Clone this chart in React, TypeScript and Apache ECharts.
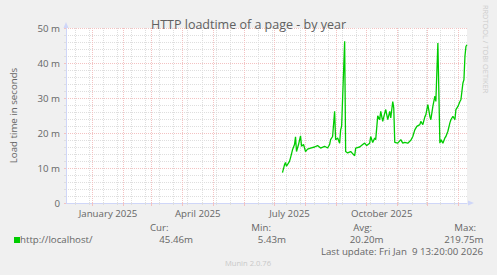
import React, { useEffect, useRef } from "react";
import * as echarts from "echarts";

// ---- data (values in milliseconds, "m") ----
const dates: string[] = [
  "2025-07-09", "2025-07-11", "2025-07-12", "2025-07-13", "2025-07-16", "2025-07-17", "2025-07-19",
  "2025-07-21", "2025-07-22", "2025-07-23", "2025-07-25", "2025-07-27", "2025-07-28", "2025-07-30",
  "2025-08-01", "2025-08-03", "2025-08-06", "2025-08-10", "2025-08-13", "2025-08-16", "2025-08-20",
  "2025-08-23", "2025-08-25", "2025-08-26", "2025-08-28", "2025-08-30", "2025-08-31", "2025-09-02",
  "2025-09-04", "2025-09-05", "2025-09-06", "2025-09-09", "2025-09-10", "2025-09-12", "2025-09-15",
  "2025-09-17", "2025-09-19", "2025-09-20", "2025-09-24", "2025-09-27", "2025-09-29", "2025-10-01",
  "2025-10-04", "2025-10-05", "2025-10-07", "2025-10-09", "2025-10-10", "2025-10-12", "2025-10-14",
  "2025-10-15", "2025-10-17", "2025-10-19", "2025-10-20", "2025-10-22", "2025-10-24", "2025-10-25",
  "2025-10-27", "2025-10-28", "2025-10-29", "2025-11-01", "2025-11-04", "2025-11-06", "2025-11-08",
  "2025-11-11", "2025-11-14", "2025-11-16", "2025-11-18", "2025-11-20", "2025-11-23", "2025-11-24",
  "2025-11-26", "2025-11-28", "2025-11-29", "2025-12-01", "2025-12-03", "2025-12-04", "2025-12-06",
  "2025-12-08", "2025-12-09", "2025-12-11", "2025-12-13", "2025-12-14", "2025-12-16", "2025-12-18",
  "2025-12-19", "2025-12-21", "2025-12-23", "2025-12-24", "2025-12-26", "2025-12-28", "2025-12-29",
  "2025-12-31", "2026-01-02", "2026-01-03", "2026-01-05", "2026-01-06", "2026-01-07", "2026-01-08",
  "2026-01-09",
];
const loadMs: number[] = [
  8.7, 10.9, 11.6, 10.5, 11.9, 12.9, 15.2,
  16.7, 18.9, 14.7, 16.7, 19.2, 16.2, 16.7,
  14.7, 15.4, 15.7, 16.0, 16.4, 15.7, 16.2,
  15.7, 16.7, 18.1, 19.0, 26.2, 18.1, 18.6,
  17.1, 20.9, 21.9, 46.2, 14.7, 14.3, 14.7,
  14.1, 13.5, 15.7, 16.0, 16.7, 17.1, 16.4,
  17.1, 19.0, 17.3, 18.6, 18.1, 24.9, 23.8,
  26.2, 23.3, 25.7, 26.7, 23.8, 26.2, 24.3,
  29.0, 27.1, 17.3, 17.1, 18.1, 17.1, 17.3,
  17.1, 17.9, 19.0, 20.9, 21.9, 22.4, 23.3,
  22.4, 24.6, 25.2, 28.1, 24.8, 23.8, 27.6,
  30.5, 29.0, 45.7, 17.1, 18.1, 17.1, 18.6,
  19.0, 20.5, 22.9, 23.8, 24.8, 23.8, 26.7,
  27.6, 29.0, 29.5, 34.3, 35.2, 41.9, 44.7,
  45.2,
];
const xLabelMonths: string[] = ["January 2025", "April 2025", "July 2025", "October 2025"];
const yTicks: number[] = [0, 10, 20, 30, 40, 50];
const legendHeaders: string[] = ["Cur:", "Min:", "Avg:", "Max:"];
const legendValues: string[] = ["45.46m", "5.43m", "20.20m", "219.75m"];
const seriesName = "http://localhost/";
const lastUpdate = "Last update: Fri Jan  9 13:20:00 2026";

const RANGE_START = Date.UTC(2024, 11, 5, 13, 20);
const RANGE_END = Date.UTC(2026, 0, 9, 13, 20);
const DAY = 86400000;

const FONT = "Open Sans";
const FC = "#666666";
const AXISC = "#CFD6F8";
const GRID_GRAY = "#dedede";
const GRID_RED = "#f3c2c2";

function toTs(d: string): number {
  const [y, m, dd] = d.split("-").map(Number);
  return Date.UTC(y, m - 1, dd, 12, 0);
}

export default function App() {
  const ref = useRef<HTMLDivElement>(null);
  useEffect(() => {
    if (!ref.current) return;
    const chart = echarts.init(ref.current, undefined, { renderer: "svg" });

    // biweekly Sunday grid lines
    const minorVals: number[] = [];
    for (let t = Date.UTC(2024, 11, 15); t < RANGE_END; t += 14 * DAY) minorVals.push(t);
    // month-start grid lines
    const monthVals: number[] = [];
    for (let i = 0; i < 14; i++) {
      const t = Date.UTC(2024, 11 + i, 1);
      if (t > RANGE_START && t < RANGE_END) monthVals.push(t);
    }
    // labels centred in the middle of quarter months
    const labelVals: number[] = [];
    const labelMap: Record<number, string> = {};
    xLabelMonths.forEach((name, i) => {
      const s = Date.UTC(2025, i * 3, 1);
      const e = Date.UTC(2025, i * 3 + 1, 1);
      const mid = (s + e) / 2;
      labelVals.push(mid);
      labelMap[mid] = name;
    });

    const baseX = {
      type: "value" as const,
      min: RANGE_START,
      max: RANGE_END,
      position: "bottom" as const,
      axisLine: { show: false },
      axisLabel: { show: false },
      splitLine: { show: false },
      axisTick: { show: false },
    };

    const seriesData = dates.map((d, i) => [toTs(d), loadMs[i]]);

    const option: echarts.EChartsOption = {
      animation: false,
      backgroundColor: "#F0F0F0",
      textStyle: { fontFamily: FONT },
      title: {
        text: "HTTP loadtime of a page - by year",
        left: "center",
        top: 13,
        textStyle: { fontFamily: FONT, fontSize: 12.5, fontWeight: "normal", color: "#606060" },
      },
      grid: {
        left: 66,
        right: 30,
        top: 28,
        bottom: 72,
        show: true,
        backgroundColor: "#FFFFFF",
        borderWidth: 0,
      },
      xAxis: [
        {
          ...baseX,
          axisTick: { show: true, customValues: minorVals, length: 2, lineStyle: { color: GRID_GRAY } },
          splitLine: { show: true, lineStyle: { color: GRID_GRAY, type: [1, 1], width: 1 } },
        },
        {
          ...baseX,
          axisTick: { show: true, customValues: monthVals, length: 3, lineStyle: { color: GRID_RED } },
          splitLine: { show: true, lineStyle: { color: GRID_RED, type: [1, 1], width: 1 } },
        },
        {
          ...baseX,
          axisLine: {
            show: true,
            lineStyle: { color: AXISC, width: 1 },
            symbol: ["none", "triangle"],
            symbolSize: [5, 6],
            symbolOffset: [0, 4],
          },
          axisLabel: {
            show: true,
            customValues: labelVals,
            formatter: (v: number) => labelMap[v] || "",
            color: FC,
            fontFamily: FONT,
            fontSize: 9.7,
            margin: 5,
          },
        },
      ],
      yAxis: {
        type: "value",
        min: yTicks[0],
        max: yTicks[yTicks.length - 1],
        interval: 10,
        name: "Load time in seconds",
        nameLocation: "middle",
        nameGap: 48,
        nameTextStyle: { color: FC, fontFamily: FONT, fontSize: 9.7 },
        axisLine: {
          show: true,
          lineStyle: { color: AXISC, width: 1 },
          symbol: ["none", "triangle"],
          symbolSize: [5, 6],
          symbolOffset: [0, 3],
        },
        axisTick: { show: true, length: 2, lineStyle: { color: GRID_RED } },
        minorTick: { show: true, splitNumber: 5, length: 2, lineStyle: { color: GRID_GRAY } },
        axisLabel: {
          color: FC,
          fontFamily: FONT,
          fontSize: 9.7,
          margin: 6,
          formatter: (v: number) => (v === 0 ? "0" : v + " m"),
        },
        splitLine: { show: true, lineStyle: { color: GRID_RED, type: [1, 1], width: 1 } },
        minorSplitLine: { show: true, lineStyle: { color: GRID_GRAY, type: [1, 1], width: 1 } },
      },
      series: [
        {
          name: seriesName,
          type: "line",
          xAxisIndex: 0,
          data: seriesData,
          showSymbol: false,
          lineStyle: { color: "#00CC00", width: 1.3 },
          itemStyle: { color: "#00CC00" },
          z: 10,
        },
      ],
      graphic: [
        { type: "rect", shape: { x: 14, y: 237, width: 6, height: 6 }, style: { fill: "#00CC00" } },
        {
          type: "text", x: 20, y: 239,
          style: { text: seriesName, fill: FC, font: `9.7px '${FONT}'`, align: "left", verticalAlign: "middle" },
        },
        ...legendHeaders.map((h, i) => ({
          type: "text" as const,
          x: [168.5, 271, 372, 476][i],
          y: 227,
          style: { text: h, fill: FC, font: `9.7px '${FONT}'`, align: "right" as const, verticalAlign: "middle" as const },
        })),
        ...legendValues.map((v, i) => ({
          type: "text" as const,
          x: [193, 286, 383.5, 483.5][i],
          y: 239,
          style: { text: v, fill: FC, font: `9.7px '${FONT}'`, align: "right" as const, verticalAlign: "middle" as const },
        })),
        {
          type: "text", x: 483, y: 251,
          style: { text: lastUpdate, fill: FC, font: `9.7px '${FONT}'`, align: "right", verticalAlign: "middle" },
        },
        {
          type: "text", x: 248, y: 262.5,
          style: { text: "Munin 2.0.76", fill: "#c8c8c8", font: `7.6px '${FONT}'`, align: "center", verticalAlign: "middle" },
        },
        {
          type: "text", x: 486, y: 5, rotation: -Math.PI / 2,
          style: { text: "RRDTOOL / TOBI OETIKER", fill: "#cccccc", font: `7.4px '${FONT}'`, align: "left", verticalAlign: "middle" },
        },
      ],
    };
    chart.setOption(option);
    return () => chart.dispose();
  }, []);
  return <div ref={ref} style={{ width: 497, height: 275, position: "fixed", left: 0, top: 0 }} />;
}
